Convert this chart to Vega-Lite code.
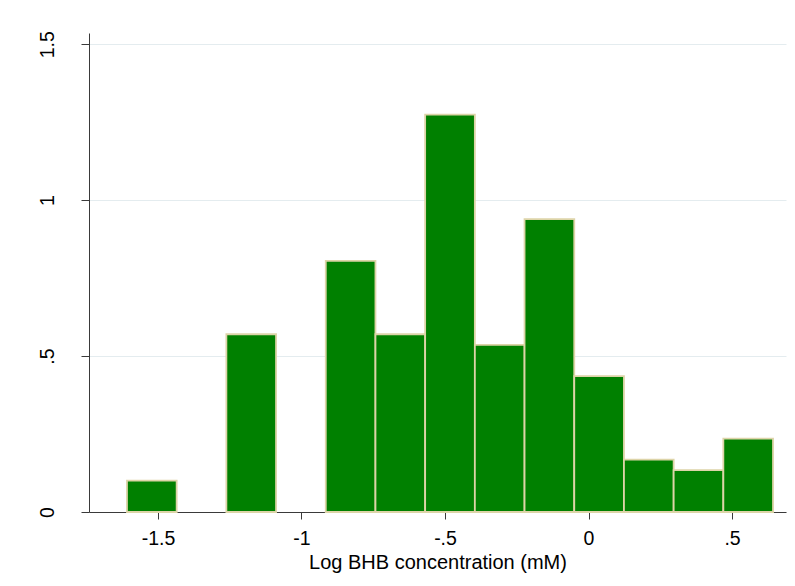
{
  "$schema": "https://vega.github.io/schema/vega-lite/v6.json",
  "width": 697,
  "height": 479,
  "autosize": {"type": "none"},
  "padding": {"left": 89, "top": 33, "right": 9, "bottom": 74},
  "background": "white",
  "config": {"view": {"stroke": null}, "font": "Liberation Sans"},
  "data": {
    "values": [
      {"bin_start": -1.608, "bin_end": -1.4349, "density": 0.1006},
      {"bin_start": -1.2617, "bin_end": -1.0886, "density": 0.570},
      {"bin_start": -0.9154, "bin_end": -0.7423, "density": 0.805},
      {"bin_start": -0.7423, "bin_end": -0.5692, "density": 0.570},
      {"bin_start": -0.5692, "bin_end": -0.3960, "density": 1.274},
      {"bin_start": -0.3960, "bin_end": -0.2229, "density": 0.536},
      {"bin_start": -0.2229, "bin_end": -0.0497, "density": 0.939},
      {"bin_start": -0.0497, "bin_end": 0.1234, "density": 0.436},
      {"bin_start": 0.1234, "bin_end": 0.2966, "density": 0.168},
      {"bin_start": 0.2966, "bin_end": 0.4697, "density": 0.134},
      {"bin_start": 0.4697, "bin_end": 0.6428, "density": 0.235}
    ]
  },
  "mark": {"type": "rect", "fill": "#008000", "stroke": "#ddd4a8", "strokeWidth": 1.8},
  "encoding": {
    "x": {
      "field": "bin_start",
      "type": "quantitative",
      "scale": {"domain": [-1.7403, 0.688], "nice": false, "zero": false},
      "axis": {
        "values": [-1.5, -1, -0.5, 0, 0.5],
        "labelExpr": "replace('' + datum.value, '0.', '.')",
        "title": "Log BHB concentration (mM)",
        "grid": false,
        "tickSize": 7,
        "labelPadding": 10,
        "labelFontSize": 19.5,
        "labelColor": "black",
        "labelFlush": false,
        "titleFontSize": 20,
        "titleFontWeight": "normal",
        "titleColor": "black",
        "titlePadding": 5,
        "domainColor": "#3a3a3a",
        "tickColor": "#3a3a3a"
      }
    },
    "x2": {"field": "bin_end"},
    "y": {
      "field": "density",
      "type": "quantitative",
      "scale": {"domain": [0, 1.536], "nice": false},
      "axis": {
        "values": [0, 0.5, 1, 1.5],
        "labelExpr": "replace('' + datum.value, '0.', '.')",
        "title": null,
        "grid": true,
        "gridColor": "#e4ecef",
        "gridWidth": 1,
        "tickSize": 8,
        "labelAngle": -90,
        "labelAlign": "center",
        "labelBaseline": "alphabetic",
        "labelPadding": 28,
        "labelFontSize": 19.5,
        "labelColor": "black",
        "labelFlush": false,
        "domainColor": "#3a3a3a",
        "tickColor": "#3a3a3a"
      }
    },
    "y2": {"datum": 0}
  }
}
